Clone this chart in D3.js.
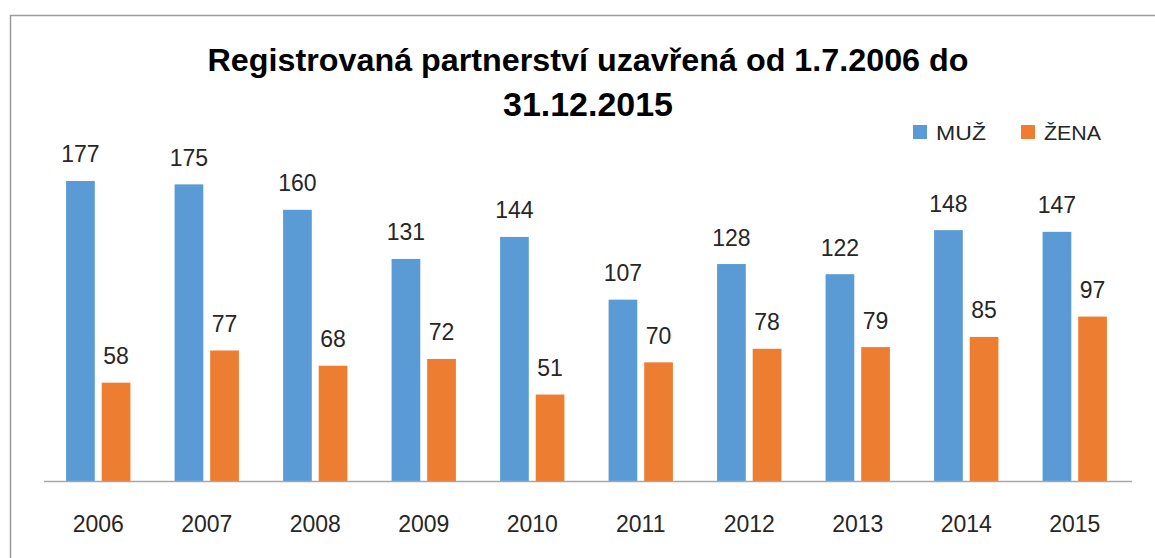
<!DOCTYPE html>
<html><head><meta charset="utf-8">
<script src="https://cdn.jsdelivr.net/npm/d3@7/dist/d3.min.js"></script>
<style>
html,body{margin:0;padding:0;background:#fff;}
svg{display:block;}
</style></head>
<body>
<script>
const years = ["2006","2007","2008","2009","2010","2011","2012","2013","2014","2015"];
const muz   = [177,175,160,131,144,107,128,122,148,147];
const zena  = [58,77,68,72,51,70,78,79,85,97];
const seriesNames = ["MUŽ","ŽENA"];
const colors = ["#5B9BD5","#ED7D31"];
const titleLines = ["Registrovaná partnerství uzavřená od 1.7.2006 do","31.12.2015"];

const W=1155,H=558;
const svg=d3.select("body").append("svg").attr("width",W).attr("height",H);
svg.append("rect").attr("width",W).attr("height",H).attr("fill","#fff");
// chart border
svg.append("rect").attr("x",10.5).attr("y",15.5).attr("width",W).attr("height",H).attr("fill","none").attr("stroke","#9a9a9a").attr("stroke-width",1.5);

const font="'Liberation Sans', Arial, sans-serif";

const x=d3.scaleBand().domain(years).range([44,1129]).paddingInner(0).paddingOuter(0);
const sub=d3.scaleBand().domain(seriesNames).range([0,x.bandwidth()]).paddingInner(0.194).paddingOuter(0.62);
const y=d3.scaleLinear().domain([0,200]).range([481,481-339]);

const data=years.map((yr,i)=>({year:yr,vals:[{s:seriesNames[0],v:muz[i],c:colors[0]},{s:seriesNames[1],v:zena[i],c:colors[1]}]}));

const g=svg.append("g");
const grp=g.selectAll("g.cat").data(data).join("g").attr("class","cat").attr("transform",d=>`translate(${x(d.year)},0)`);
grp.selectAll("rect").data(d=>d.vals).join("rect")
  .attr("x",d=>sub(d.s)).attr("width",sub.bandwidth())
  .attr("y",d=>y(d.v)).attr("height",d=>y(0)-y(d.v)).attr("fill",d=>d.c);
grp.selectAll("text.lbl").data(d=>d.vals).join("text").attr("class","lbl")
  .attr("x",d=>sub(d.s)+sub.bandwidth()/2).attr("y",d=>y(d.v)-18.5)
  .attr("text-anchor","middle").attr("font-family",font).attr("font-size",23).attr("fill","#262626")
  .text(d=>d.v);

// axis
const ax=svg.append("g").attr("transform",`translate(0,${y(0)})`)
  .call(d3.axisBottom(x).tickSize(0).tickPadding(0));
ax.select(".domain").remove();
ax.append("line").attr("x1",x.range()[0]).attr("x2",x.range()[1]+3).attr("y1",0.5).attr("y2",0.5).attr("stroke","#a6a6a6").attr("stroke-width",1.5);
ax.selectAll(".tick text").attr("font-family",font).attr("font-size",23).attr("fill","#262626").attr("dy",0).attr("y",51);

// title
const t=svg.append("g");
t.append("text").attr("x",588).attr("y",71).attr("text-anchor","middle").attr("font-family",font).attr("font-weight","bold").attr("font-size",32).attr("fill","#000")
  .attr("textLength",761).attr("lengthAdjust","spacingAndGlyphs").text(titleLines[0]);
t.append("text").attr("x",588).attr("y",116).attr("text-anchor","middle").attr("font-family",font).attr("font-weight","bold").attr("font-size",33).attr("fill","#000")
  .attr("textLength",170).attr("lengthAdjust","spacingAndGlyphs").text(titleLines[1]);

// legend
const leg=svg.append("g");
const legX=[913,1021];
const legW=[50,57];
seriesNames.forEach((s,i)=>{
  leg.append("rect").attr("x",legX[i]).attr("y",125).attr("width",14).attr("height",14).attr("fill",colors[i]);
  leg.append("text").attr("x",legX[i]+23).attr("y",139.5).attr("font-family",font).attr("font-size",21).attr("fill","#262626")
    .attr("textLength",legW[i]).attr("lengthAdjust","spacingAndGlyphs").text(s);
});
</script>
</body></html>
